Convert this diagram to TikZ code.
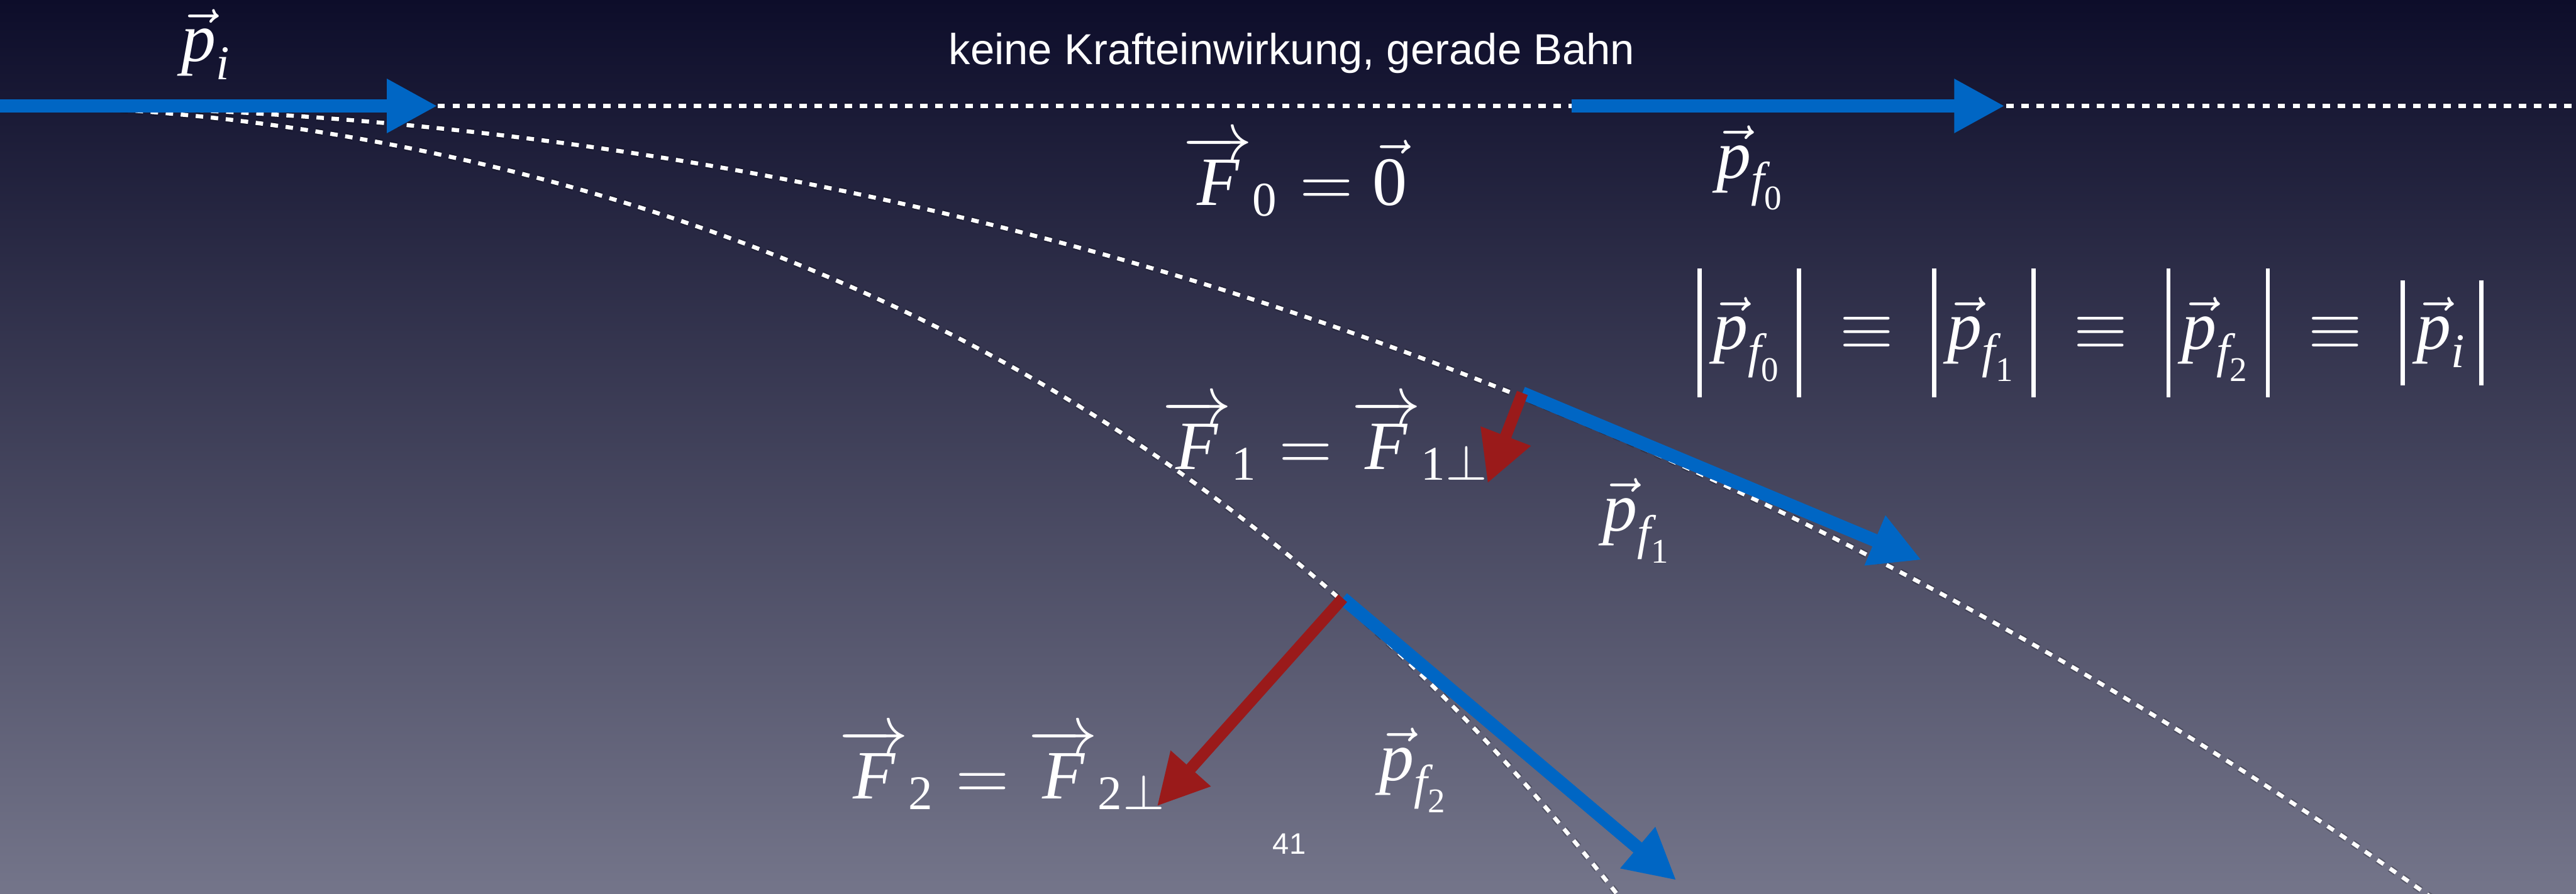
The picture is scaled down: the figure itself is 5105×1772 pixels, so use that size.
\documentclass[tikz,border=0pt]{standalone}
\usepackage{amsmath}
\usepackage{fontspec}
\newfontfamily\tms{Liberation Serif}
\newfontfamily\hel{Liberation Sans}
\usetikzlibrary{arrows.meta}

\definecolor{bgtop}{HTML}{0D0D2A}
\definecolor{bgmid}{HTML}{484966}
\definecolor{bgbot}{HTML}{74758A}
\definecolor{pblue}{HTML}{0066C4}
\definecolor{fred}{HTML}{9A1A1A}

\newcommand{\vecp}{\vec{\text{\tms\itshape p}}}
\newcommand{\vecF}{\overrightarrow{\text{\tms\itshape F}}}
\newcommand{\itf}{\text{\tms\itshape f}}
\newcommand{\iti}{\text{\tms\itshape i}}
\newcommand{\upn}[1]{\text{\tms #1}}
\newcommand{\vbarf}{\rule[-0.69em]{0.6pt}{1.86em}}
\newcommand{\vbari}{\rule[-0.52em]{0.6pt}{1.52em}}
\newcommand{\eqv}{\mkern10mu{\equiv}\mkern10mu}

\tikzset{
  traj/.style={draw=white, line width=2.3pt, dash pattern=on 4.2pt off 4.3pt},
  trajshadow/.style={draw=black, opacity=0.22, line width=3.8pt, dash pattern=on 4.2pt off 4.3pt},
  momentum/.style={draw=pblue, line width=7.4pt, -{Triangle[length=28.5pt,width=28.5pt]}},
  force/.style={draw=fred, line width=6.5pt, -{Triangle[length=28.5pt,width=28.5pt]}},
  mathlabel/.style={text=white, scale=3.9, inner sep=0pt},
  sanslabel/.style={text=white, inner sep=0pt, font=\hel},
}

\begin{document}
\begin{tikzpicture}[x=0.01cm, y=-0.01cm]
\useasboundingbox (0,0) rectangle (5105,1772);
\shade[top color=bgtop, middle color=bgmid, bottom color=bgbot] (0,0) rectangle (5105,1772);

% straight line coordinates
\coordinate (L0) at (0,210);
\coordinate (L1) at (5105,210);

% trajectories
\begin{scope}
\clip (0,0) rectangle (5105,1772);
\foreach \sty in {trajshadow,traj}{
  \draw[\sty] (L0) -- (L1);
  \draw[\sty] plot[domain=0:4.85, samples=160] ({1000*\x},{210+56.5*\x*\x+2.3*\x*\x*\x});
  \draw[\sty] plot[domain=0:3.3, samples=160] ({1000*\x},{210+138.74*\x*\x-20.49*\x*\x*\x+7.7*\x*\x*\x*\x});
}
\end{scope}

% vector coordinates
\coordinate (pi0) at (0,210);
\coordinate (pi1) at (867,210);
\coordinate (p00) at (3114,210);
\coordinate (p01) at (3973,210);
\coordinate (O1) at (3017,779);
\coordinate (p11) at (3808,1110);
\coordinate (F11) at (2948,958);
\coordinate (O2) at (2661,1186);
\coordinate (p21) at (3322,1745);
\coordinate (F21) at (2293,1598);

% momentum vectors
\draw[momentum] (pi0) -- (pi1);
\draw[momentum] (p00) -- (p01);
\draw[momentum] (O1) -- (p11);
\draw[momentum] (O2) -- (p21);
% force vectors
\draw[force] (O1) -- (F11);
\draw[force] (O2) -- (F21);

% labels
\node[mathlabel] (lpi) at (410,88) {$\vecp_{\iti}$};
\node[sanslabel, scale=2.44] (head) at (2560,105) {keine Krafteinwirkung, gerade Bahn};
\node[mathlabel] (lF0) at (2567,348) {$\vecF_{\upn{0}} = \vec{\upn{0}}$};
\node[mathlabel] (lpf0) at (3473,333) {$\vecp_{\itf_{\upn{0}}}$};
\node[mathlabel] (leq) at (4143,660) {$\vbarf\,\vecp_{\itf_{\upn{0}}}\,\vbarf\eqv\vbarf\,\vecp_{\itf_{\upn{1}}}\,\vbarf\eqv\vbarf\,\vecp_{\itf_{\upn{2}}}\,\vbarf\eqv\vbari\,\vecp_{\iti}\,\vbari$};
\node[mathlabel] (lF1) at (2630,871) {$\vecF_{\upn{1}} = \vecF_{\upn{1}\perp}$};
\node[mathlabel] (lpf1) at (3248,1032) {$\vecp_{\itf_{\upn{1}}}$};
\node[mathlabel] (lF2) at (1990,1524) {$\vecF_{\upn{2}} = \vecF_{\upn{2}\perp}$};
\node[mathlabel] (lpf2) at (2806,1527) {$\vecp_{\itf_{\upn{2}}}$};
\node[sanslabel, scale=1.67] (pg) at (2555,1673) {41};
\end{tikzpicture}
\end{document}
